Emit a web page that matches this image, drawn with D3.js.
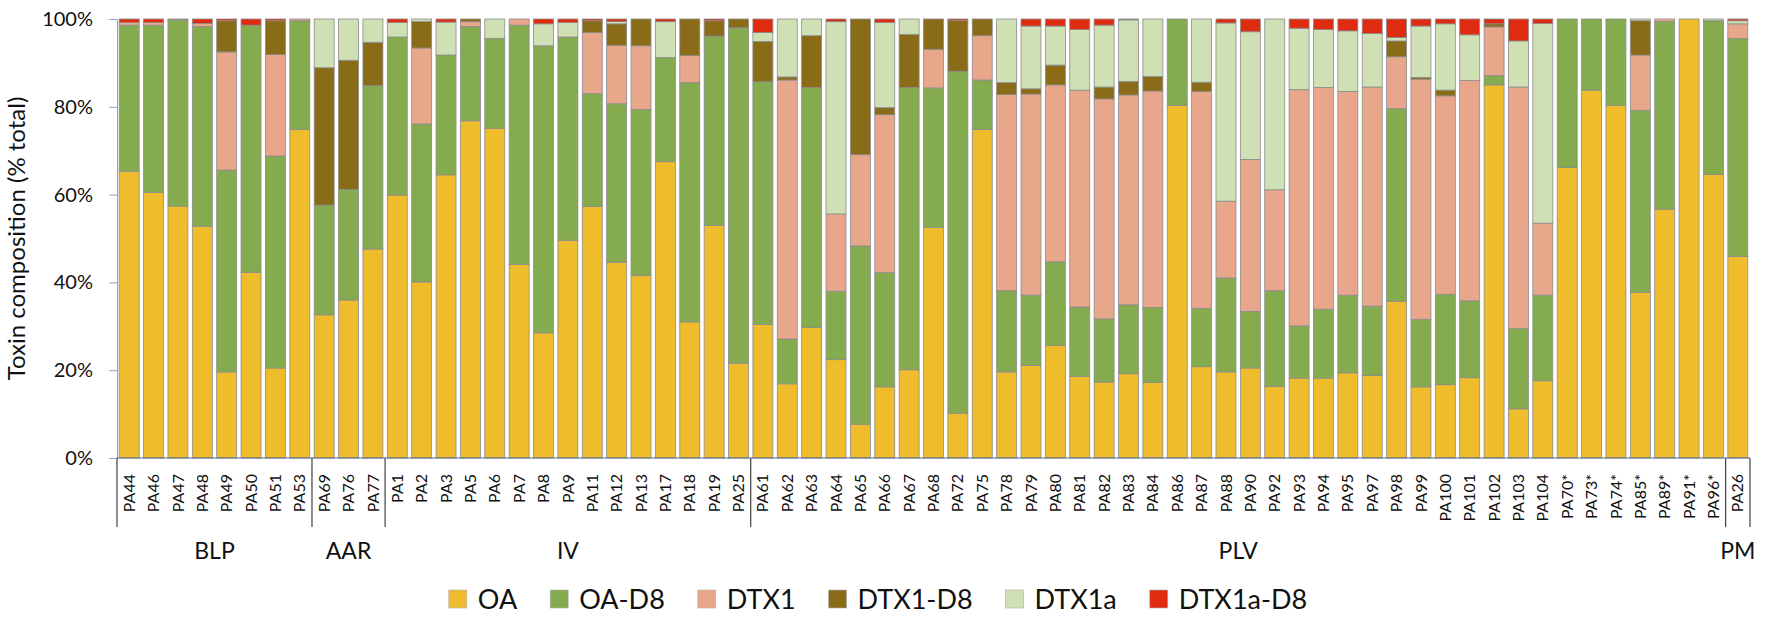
<!DOCTYPE html>
<html>
<head>
<meta charset="utf-8">
<script src="https://cdn.jsdelivr.net/npm/d3@7"></script>
<style>
  body { margin: 0; background: #fff; }
  svg { font-family: Lato, "Liberation Sans", sans-serif; }
</style>
</head>
<body>
<svg id="toxin_chart" width="1772" height="620"></svg>
<script>
// sample names, grouped by region
const samples = [
    "PA44", "PA46", "PA47", "PA48", "PA49", "PA50", "PA51", "PA53",
    "PA69", "PA76", "PA77",
    "PA1", "PA2", "PA3", "PA5", "PA6", "PA7", "PA8", "PA9", "PA11", "PA12", "PA13", "PA17", "PA18", "PA19", "PA25",
    "PA61", "PA62", "PA63", "PA64", "PA65", "PA66", "PA67", "PA68", "PA72", "PA75", "PA78", "PA79", "PA80", "PA81",
    "PA82", "PA83", "PA84", "PA86", "PA87", "PA88", "PA90", "PA92", "PA93", "PA94", "PA95", "PA97", "PA98", "PA99",
    "PA100", "PA101", "PA102", "PA103", "PA104", "PA70*", "PA73*", "PA74*", "PA85*", "PA89*", "PA91*", "PA96*",
    "PA26"
];
const groups = ["BLP", "AAR", "IV", "PLV", "PM"];
const groupSizes = [8, 3, 15, 40, 1];

const seriesNames = ["OA", "OA-D8", "DTX1", "DTX1-D8", "DTX1a", "DTX1a-D8"];
const seriesColors = ["#efbc2b", "#85ab4f", "#e8a78a", "#8a6b17", "#cfe0b4", "#df2c10"];

// % of total toxin, one value per sample
const OA = [
    65.3, 60.5, 57.4, 52.8, 19.6, 42.3, 20.5, 74.8,
    32.6, 36.0, 47.6,
    59.9, 40.1, 64.5, 76.8, 75.1, 44.1, 28.5, 49.6, 57.3, 44.6, 41.6, 67.5, 31.0, 53.0, 21.6,
    30.4, 16.9, 29.7, 22.4, 7.7, 16.2, 20.1, 52.5, 10.2, 74.8, 19.6, 21.1, 25.6, 18.6,
    17.3, 19.2, 17.2, 80.3, 20.8, 19.6, 20.5, 16.3, 18.2, 18.2, 19.4, 18.8, 35.7, 16.2,
    16.7, 18.3, 85.0, 11.2, 17.6, 66.2, 83.8, 80.3, 37.7, 56.7, 100, 64.6,
    45.9
];
const OA_D8 = [
    33.3, 38.1, 42.4, 45.5, 46.0, 56.3, 48.3, 24.8,
    25.0, 25.2, 37.2,
    36.0, 36.0, 27.3, 21.5, 20.5, 54.5, 65.4, 46.3, 25.7, 36.1, 37.8, 23.7, 54.5, 43.1, 76.4,
    55.3, 10.2, 54.7, 15.6, 40.6, 26.0, 64.3, 31.8, 77.9, 11.3, 18.5, 16.0, 19.1, 15.8,
    14.4, 15.7, 17.1, 19.7, 13.3, 21.4, 12.9, 21.8, 11.9, 15.7, 17.7, 15.8, 43.9, 15.4,
    20.6, 17.5, 2.1, 18.3, 19.5, 33.8, 16.2, 19.7, 41.5, 42.7, 0, 35.0,
    49.7
];
const DTX1 = [
    0.6, 0.6, 0.2, 0.7, 26.9, 0, 23.1, 0.4,
    0, 0, 0,
    0, 17.3, 0, 1.1, 0, 1.4, 0, 0, 13.9, 13.3, 14.5, 0, 6.2, 0, 0,
    0, 59.0, 0, 17.6, 20.8, 36.0, 0, 8.8, 0, 10.1, 44.7, 45.8, 40.3, 49.4,
    50.1, 47.8, 49.3, 0, 49.4, 17.5, 34.6, 23.0, 53.8, 50.5, 46.4, 49.9, 11.8, 54.7,
    45.2, 50.2, 11.1, 55.0, 16.4, 0, 0, 0, 12.6, 0.6, 0, 0,
    3.3
];
const DTX1_D8 = [
    0, 0, 0, 0, 7.1, 0, 7.7, 0,
    31.3, 29.4, 9.9,
    0, 6.0, 0, 0.6, 0, 0, 0, 0, 2.7, 4.9, 6.1, 0, 8.3, 3.5, 2.0,
    9.2, 0.7, 11.8, 0, 30.9, 1.6, 12.1, 6.9, 11.6, 3.8, 2.7, 1.2, 4.5, 0,
    2.7, 3.1, 3.3, 0, 2.1, 0, 0, 0, 0, 0, 0, 0, 3.6, 0.4,
    1.3, 0, 0.7, 0, 0, 0, 0, 0, 7.8, 0, 0, 0,
    0
];
const DTX1a = [
    0, 0, 0, 0, 0, 0, 0, 0,
    11.1, 9.4, 5.3,
    3.3, 0.6, 7.5, 0, 4.4, 0, 5.0, 3.3, 0, 0.5, 0, 8.2, 0, 0, 0,
    2.0, 13.2, 3.8, 43.8, 0, 19.4, 3.5, 0, 0, 0, 14.5, 14.3, 8.9, 13.8,
    14.1, 14.0, 13.1, 0, 14.4, 40.6, 29.1, 38.9, 14.0, 13.2, 13.8, 12.2, 0.8, 11.7,
    15.1, 10.4, 0, 10.5, 45.5, 0, 0, 0, 0.4, 0, 0, 0.4,
    0.7
];
const DTX1a_D8 = [
    0.8, 0.8, 0, 1.0, 0.4, 1.4, 0.4, 0,
    0, 0, 0,
    0.8, 0, 0.7, 0, 0, 0, 1.1, 0.8, 0.4, 0.6, 0, 0.6, 0, 0.4, 0,
    3.1, 0, 0, 0.6, 0, 0.8, 0, 0, 0.3, 0, 0, 1.6, 1.6, 2.4,
    1.4, 0.2, 0, 0, 0, 0.9, 2.9, 0, 2.1, 2.4, 2.7, 3.3, 4.2, 1.6,
    1.1, 3.6, 1.1, 5.0, 1.0, 0, 0, 0, 0, 0, 0, 0,
    0.4
];
const yTicks = [0, 20, 40, 60, 80, 100];

function drawToxinChart() {
    const svg = d3.select("#toxin_chart");
    const left = 117, right = 1750, top = 19, bottom = 458;

    const cols = [OA, OA_D8, DTX1, DTX1_D8, DTX1a, DTX1a_D8];
    const rows = samples.map((s, i) => {
        const r = { sample: s };
        seriesNames.forEach((k, j) => { r[k] = cols[j][i]; });
        return r;
    });
    const stacked = d3.stack().keys(seriesNames).offset(d3.stackOffsetExpand)(rows);

    const x = d3.scaleBand()
        .domain(samples)
        .range([left, right])
        .paddingInner(0.18)
        .paddingOuter(0.09);
    const y = d3.scaleLinear().domain([0, 1]).range([bottom, top]);
    const color = d3.scaleOrdinal().domain(seriesNames).range(seriesColors);

    // y axis
    const yAxis = svg.append("g")
        .attr("transform", `translate(${left},0)`)
        .call(d3.axisLeft(y)
            .tickValues(yTicks.map(d => d / 100))
            .tickFormat(d3.format(".0%"))
            .tickSize(8)
            .tickPadding(16));
    yAxis.select(".domain").attr("stroke", "#8aa0d6");
    yAxis.selectAll(".tick line").attr("stroke", "#8aa0d6");
    yAxis.selectAll(".tick text")
        .style("font-family", "Lato")
        .style("font-size", "20px")
        .attr("fill", "#111");

    // bars
    svg.append("g")
        .selectAll("g")
        .data(stacked)
        .join("g")
        .attr("fill", d => color(d.key))
        .selectAll("rect")
        .data(d => d)
        .join("rect")
        .attr("x", d => x(d.data.sample))
        .attr("width", x.bandwidth())
        .attr("y", d => y(d[1]))
        .attr("height", d => Math.max(0, y(d[0]) - y(d[1])))
        .attr("stroke", "#8c8c8c")
        .attr("stroke-width", 0.8);

    // baseline
    svg.append("line")
        .attr("x1", left).attr("x2", right)
        .attr("y1", bottom).attr("y2", bottom)
        .attr("stroke", "#5d6a8c")
        .attr("stroke-width", 1.2);

    // sample labels
    svg.append("g")
        .selectAll("text")
        .data(samples)
        .join("text")
        .attr("transform", d => `translate(${x(d) + x.bandwidth() / 2},${bottom + 16}) rotate(-90)`)
        .attr("text-anchor", "end")
        .attr("dy", "0.35em")
        .style("font-size", "16px")
        .attr("fill", "#111")
        .text(d => d);

    // group separators and labels
    const step = x.step();
    let start = 0;
    const bounds = [left];
    groups.forEach((g, i) => {
        const first = samples[start];
        const last = samples[start + groupSizes[i] - 1];
        const x0 = x(first) - step * 0.09;
        const x1 = x(last) + x.bandwidth() + step * 0.09;
        bounds.push(x1);
        svg.append("text")
            .attr("x", (x0 + x1) / 2)
            .attr("y", 559)
            .attr("text-anchor", "middle")
            .style("font-size", "23px")
            .attr("fill", "#111")
            .text(g);
        start += groupSizes[i];
    });
    svg.append("g")
        .selectAll("line")
        .data(bounds)
        .join("line")
        .attr("x1", d => d).attr("x2", d => d)
        .attr("y1", bottom).attr("y2", 527)
        .attr("stroke", "#404040")
        .attr("stroke-width", 1.2);

    // y title
    svg.append("text")
        .attr("transform", `translate(25,${(top + bottom) / 2}) rotate(-90)`)
        .attr("text-anchor", "middle")
        .style("font-size", "24px")
        .attr("fill", "#111")
        .text("Toxin composition (% total)");

    // legend
    const legend = svg.append("g");
    let lx = 0;
    seriesNames.forEach((k, i) => {
        const item = legend.append("g").attr("transform", `translate(${lx},0)`);
        item.append("rect")
            .attr("x", 0).attr("y", 590)
            .attr("width", 18).attr("height", 18)
            .attr("fill", color(k))
            .attr("stroke", "#b0b0b0")
            .attr("stroke-width", 0.6);
        const t = item.append("text")
            .attr("x", 29).attr("y", 609)
            .style("font-size", "27px")
            .attr("fill", "#111")
            .text(k);
        lx += 29 + t.node().getComputedTextLength() + 33;
    });
    const legendWidth = lx - 33;
    legend.attr("transform", `translate(${878 - legendWidth / 2},0)`);
}

drawToxinChart();
</script>
</body>
</html>
